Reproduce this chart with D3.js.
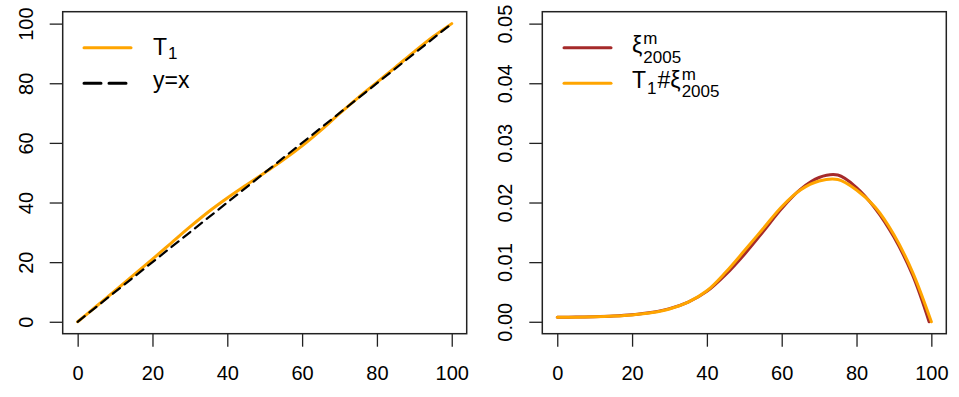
<!DOCTYPE html>
<html lang="en">
<head>
<meta charset="utf-8">
<title>T1 transport map and densities</title>
<script src="https://cdn.jsdelivr.net/npm/d3@7"></script>
<style>
  body { margin: 0; background: #fff; }
  svg text { font-family: "Liberation Sans", Arial, sans-serif; fill: #000; }
</style>
</head>
<body>
<div id="chart"></div>
<script>
// grid of ages (x) used by both panels
var xs = [0, 5, 10, 15, 20, 25, 30, 35, 40, 45, 50, 55, 60, 65, 70, 75, 80, 85, 90, 95, 100];

// left panel: estimated map T1
var t1 = [0, 5.2, 10.4, 15.7, 21.0, 26.4, 31.8, 36.9, 41.5, 45.8, 50.0, 54.3, 59.0, 64.2, 69.8, 75.2, 80.3, 85.4, 90.6, 95.6, 100];

// right panel: densities
var xiX = [0, 5, 10, 15, 20, 25, 30, 35, 40, 45, 50, 55, 60, 65, 70, 75, 80, 85, 90, 95, 99.4];
var xi2005 = [0.00075, 0.00078, 0.00085, 0.00097, 0.00118, 0.00155, 0.0022, 0.0033, 0.0051, 0.0079, 0.0113, 0.0151, 0.0190, 0.0222, 0.0242, 0.0246, 0.0225, 0.0190, 0.0142, 0.0078, 0];
var pushXi = [0.00075, 0.00077, 0.00083, 0.00095, 0.00115, 0.0015, 0.00215, 0.0033, 0.0052, 0.0083, 0.0119, 0.0156, 0.0193, 0.0221, 0.0236, 0.02385, 0.0221, 0.0192, 0.0146, 0.0083, 0];

var xTicks = [0, 20, 40, 60, 80, 100];
var yTicksL = [0, 20, 40, 60, 80, 100];
var yTicksR = [0, 0.01, 0.02, 0.03, 0.04, 0.05];

var width = 959, height = 397;
var svg = d3.select("#chart").append("svg")
    .attr("width", width)
    .attr("height", height);

var boxW = 404, boxH = 322;

function panel(left, ydom, yticks, yfmt) {
    var g = svg.append("g").attr("transform", "translate(" + left + ",11.7)");
    // R style 4% padding on both axes
    var x = d3.scaleLinear().domain([-4, 104]).range([0, boxW]);
    var pad = (ydom[1] - ydom[0]) * 0.04;
    var y = d3.scaleLinear().domain([ydom[0] - pad, ydom[1] + pad]).range([boxH, 0]);

    var xa = g.append("g")
        .attr("transform", "translate(0," + boxH + ")")
        .call(d3.axisBottom(x).tickValues(xTicks).tickSize(13).tickPadding(19));
    xa.select(".domain").remove();
    xa.selectAll("text").style("font-size", "20px");

    var ya = g.append("g")
        .call(d3.axisLeft(y).tickValues(yticks).tickSize(13).tickFormat(yfmt));
    ya.select(".domain").remove();
    ya.selectAll("text")
        .attr("x", 0).attr("dy", 0)
        .attr("transform", "translate(-30,0) rotate(-90)")
        .style("text-anchor", "middle")
        .style("font-size", "20px");

    g.selectAll(".tick line").attr("stroke", "#222").attr("stroke-width", 1.3);

    g.append("rect")
        .attr("width", boxW).attr("height", boxH)
        .attr("fill", "none").attr("stroke", "#222").attr("stroke-width", 1.5);

    return {g: g, x: x, y: y};
}

function draw(p, xv, yv, color, w, dash) {
    var line = d3.line()
        .x(function(d, i) { return p.x(xv[i]); })
        .y(function(d) { return p.y(d); })
        .curve(d3.curveCatmullRom.alpha(0.5));
    var path = p.g.append("path")
        .datum(yv)
        .attr("d", line)
        .attr("fill", "none")
        .attr("stroke", color)
        .attr("stroke-width", w)
        .attr("stroke-linecap", "round")
        .attr("stroke-linejoin", "round");
    if (dash) path.attr("stroke-dasharray", dash);
}

// ---- left panel
var L = panel(62.7, [0, 100], yTicksL, d3.format("d"));
draw(L, xs, t1, "#FFA500", 3);
draw(L, [0, 100], [0, 100], "#000", 2.2, "9,6");

// ---- right panel
var R = panel(542.3, [0, 0.05], yTicksR, d3.format(".2f"));
draw(R, xiX, xi2005, "#A52A2A", 3);
draw(R, xs, pushXi, "#FFA500", 3);

// ---- legends
function legLine(x1, x2, y, color, dash) {
    var l = svg.append("line")
        .attr("x1", x1).attr("x2", x2).attr("y1", y).attr("y2", y)
        .attr("stroke", color).attr("stroke-width", 3)
        .attr("stroke-linecap", "round");
    if (dash) l.attr("stroke-dasharray", dash);
}
function txt(x, y, s, size) {
    return svg.append("text").attr("x", x).attr("y", y)
        .style("font-size", size + "px").text(s);
}
function len(t) { return t.node().getComputedTextLength(); }

var big = 23, small = 17;

legLine(84, 131, 47.7, "#FFA500");
legLine(84, 131, 83.3, "#000", "17,8");
var tT = txt(153, 55, "T", big);
txt(153 + len(tT) + 1, 59, "1", small);
txt(153, 88, "y=x", big);

legLine(564, 611, 47.7, "#A52A2A");
legLine(564, 611, 83.3, "#FFA500");

var xi1 = txt(632, 53, "ξ", big);
var sx1 = 632 + len(xi1) + 1;
txt(sx1, 44, "m", small);
txt(sx1, 62.7, "2005", small);

var t2 = txt(632, 88.3, "T", big);
var s1 = txt(632 + len(t2) + 1, 94, "1", small);
var hx = 632 + len(t2) + 1 + len(s1) + 1;
var hs = txt(hx, 88.3, "#", big);
var xx = hx + len(hs);
var xi2 = txt(xx, 88.3, "ξ", big);
var sx2 = xx + len(xi2) + 1;
txt(sx2, 80, "m", small);
txt(sx2, 97.3, "2005", small);
</script>
</body>
</html>
